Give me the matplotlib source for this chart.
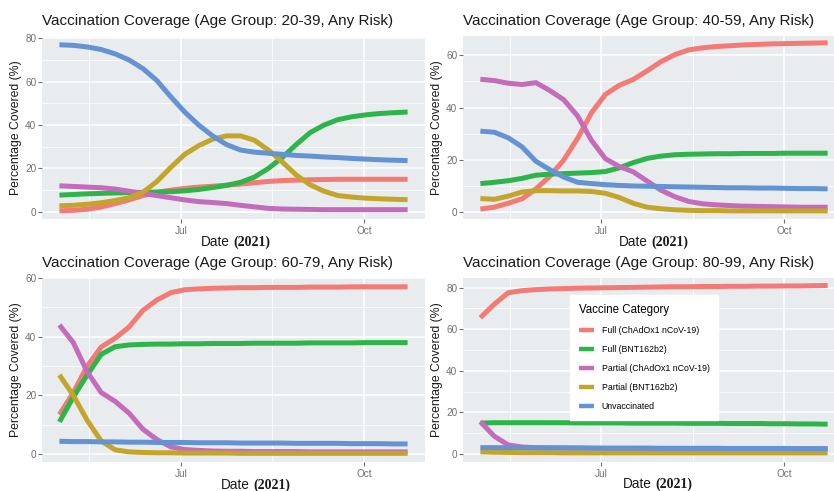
import matplotlib
matplotlib.use("Agg")
import matplotlib.pyplot as plt
import matplotlib.dates as mdates
import pandas as pd
import numpy as np

# ---------------- data ----------------
weeks = pd.date_range("2021-05-01", periods=26, freq="7D")

categories = ["Full (ChAdOx1 nCoV-19)", "Full (BNT162b2)",
              "Partial (ChAdOx1 nCoV-19)", "Partial (BNT162b2)", "Unvaccinated"]
colors = ["#F47A76", "#2DB54A", "#C46BBB", "#C4A52B", "#6493D4"]

age_groups = ["20-39", "40-59", "60-79", "80-99"]

# Age 20-39
g1_full_chad = [0.5, 0.7, 1.2, 2.2, 3.8, 5.5, 7.5, 9.0, 10.0, 10.8, 11.4, 11.8, 12.3,
                12.8, 13.4, 14.0, 14.4, 14.6, 14.8, 14.9, 15.0, 15.0, 15.0, 15.0, 15.0, 15.0]
g1_full_bnt = [7.7, 8.0, 8.3, 8.5, 8.7, 8.9, 9.0, 9.1, 9.3, 9.7, 10.3, 11.2, 12.2,
               13.6, 16.0, 20.0, 25.0, 31.0, 36.5, 40.0, 42.5, 43.8, 44.7, 45.3, 45.7, 46.0]
g1_part_chad = [12.0, 11.7, 11.4, 11.1, 10.5, 9.5, 8.5, 7.5, 6.5, 5.5, 4.7, 4.3, 3.8,
                3.0, 2.3, 1.6, 1.3, 1.2, 1.1, 1.0, 1.0, 1.0, 1.0, 1.0, 1.0, 1.0]
g1_part_bnt = [2.8, 3.0, 3.5, 4.2, 5.2, 6.5, 9.0, 14.0, 20.5, 26.5, 30.5, 33.5, 35.0,
               35.0, 33.0, 28.5, 23.0, 17.0, 12.5, 9.5, 7.5, 6.8, 6.3, 6.0, 5.8, 5.6]
g1_unvacc = [77.0, 76.7, 76.0, 74.8, 72.8, 70.0, 66.0, 60.5, 53.0, 46.0, 40.0, 35.0, 31.0,
             28.5, 27.5, 27.0, 26.5, 26.0, 25.7, 25.3, 25.0, 24.6, 24.3, 24.0, 23.8, 23.6]

# Age 40-59
g2_full_chad = [1.3, 2.0, 3.5, 5.2, 9.0, 13.8, 20.0, 28.3, 38.0, 45.0, 48.5, 50.7, 54.0,
                57.5, 60.2, 62.0, 62.8, 63.3, 63.6, 63.9, 64.1, 64.3, 64.4, 64.5, 64.6, 64.7]
g2_full_bnt = [11.0, 11.5, 12.1, 13.0, 14.2, 14.6, 14.8, 15.0, 15.2, 15.6, 17.0, 19.0, 20.6,
               21.5, 22.0, 22.2, 22.3, 22.4, 22.4, 22.5, 22.5, 22.5, 22.6, 22.6, 22.6, 22.6]
g2_part_chad = [50.8, 50.3, 49.3, 48.8, 49.5, 46.5, 43.0, 36.8, 27.5, 20.5, 17.5, 15.5, 12.0,
                8.5, 6.0, 4.2, 3.3, 2.9, 2.6, 2.4, 2.3, 2.2, 2.1, 2.0, 2.0, 2.0]
g2_part_bnt = [5.3, 5.0, 6.2, 7.8, 8.3, 8.3, 8.2, 8.2, 8.0, 7.3, 5.7, 3.5, 2.0,
               1.4, 1.0, 0.8, 0.7, 0.7, 0.6, 0.6, 0.6, 0.6, 0.6, 0.6, 0.6, 0.6]
g2_unvacc = [31.0, 30.6, 28.5, 25.0, 19.5, 16.3, 13.5, 11.5, 11.0, 10.6, 10.3, 10.1, 10.0,
             9.9, 9.8, 9.7, 9.6, 9.5, 9.4, 9.4, 9.3, 9.3, 9.2, 9.1, 9.1, 9.0]

# Age 60-79
g3_full_chad = [13.5, 21.0, 30.0, 36.5, 39.5, 43.3, 49.0, 52.5, 55.0, 56.0, 56.3, 56.5, 56.6,
                56.7, 56.7, 56.8, 56.8, 56.8, 56.9, 56.9, 56.9, 57.0, 57.0, 57.0, 57.0, 57.0]
g3_full_bnt = [11.0, 19.5, 27.0, 34.0, 36.6, 37.2, 37.4, 37.5, 37.5, 37.6, 37.6, 37.7, 37.7,
               37.7, 37.8, 37.8, 37.8, 37.8, 37.9, 37.9, 37.9, 37.9, 38.0, 38.0, 38.0, 38.0]
g3_part_chad = [44.0, 38.0, 28.0, 21.0, 18.0, 14.0, 8.5, 5.0, 2.5, 1.6, 1.3, 1.1, 1.0,
                1.0, 0.9, 0.9, 0.9, 0.9, 0.8, 0.8, 0.8, 0.8, 0.8, 0.8, 0.8, 0.8]
g3_part_bnt = [27.0, 20.0, 11.5, 4.5, 1.5, 0.8, 0.6, 0.5, 0.5, 0.4, 0.4, 0.4, 0.4,
               0.3, 0.3, 0.3, 0.3, 0.3, 0.3, 0.3, 0.3, 0.3, 0.3, 0.3, 0.3, 0.3]
g3_unvacc = [4.4, 4.3, 4.3, 4.2, 4.2, 4.1, 4.1, 4.0, 4.0, 4.0, 3.9, 3.9, 3.9,
             3.8, 3.8, 3.8, 3.8, 3.7, 3.7, 3.7, 3.7, 3.6, 3.6, 3.6, 3.5, 3.5]

# Age 80-99
g4_full_chad = [65.5, 72.0, 77.5, 78.5, 79.0, 79.3, 79.5, 79.7, 79.8, 79.9, 80.0, 80.1, 80.2,
                80.3, 80.4, 80.4, 80.5, 80.5, 80.6, 80.6, 80.7, 80.7, 80.8, 80.8, 80.9, 81.0]
g4_full_bnt = [14.8, 15.0, 15.0, 15.0, 15.0, 15.0, 15.0, 14.9, 14.9, 14.9, 14.9, 14.8, 14.8,
               14.8, 14.8, 14.7, 14.7, 14.7, 14.6, 14.6, 14.6, 14.5, 14.5, 14.4, 14.4, 14.3]
g4_part_chad = [15.5, 8.5, 4.3, 3.3, 3.0, 2.9, 2.8, 2.7, 2.7, 2.6, 2.6, 2.6, 2.5,
                2.5, 2.5, 2.5, 2.5, 2.5, 2.5, 2.5, 2.5, 2.5, 2.5, 2.5, 2.5, 2.5]
g4_part_bnt = [1.0, 0.8, 0.7, 0.6, 0.6, 0.6, 0.5, 0.5, 0.5, 0.5, 0.5, 0.5, 0.5,
               0.5, 0.5, 0.5, 0.5, 0.5, 0.5, 0.5, 0.5, 0.5, 0.5, 0.5, 0.5, 0.5]
g4_unvacc = [3.0, 3.0, 3.0, 3.0, 2.9, 2.9, 2.9, 2.9, 2.8, 2.8, 2.8, 2.8, 2.8,
             2.7, 2.7, 2.7, 2.7, 2.7, 2.6, 2.6, 2.6, 2.6, 2.6, 2.5, 2.5, 2.5]

groups = [
    [g1_full_chad, g1_full_bnt, g1_part_chad, g1_part_bnt, g1_unvacc],
    [g2_full_chad, g2_full_bnt, g2_part_chad, g2_part_bnt, g2_unvacc],
    [g3_full_chad, g3_full_bnt, g3_part_chad, g3_part_bnt, g3_unvacc],
    [g4_full_chad, g4_full_bnt, g4_part_chad, g4_part_bnt, g4_unvacc],
]
y_ticks = [[0, 20, 40, 60, 80], [0, 20, 40, 60], [0, 20, 40, 60], [0, 20, 40, 60, 80]]
y_limits = [(-3.3, 80.8), (-2.5, 67.3), (-2.65, 59.9), (-3.9, 84.6)]

# ---------------- layout ----------------
W, H = 834, 491
fig = plt.figure(figsize=(W / 100, H / 100), dpi=100)
fig.patch.set_facecolor("white")

def fx(x):
    return x / W

def fy(y):
    return 1 - y / H

# (left, right, top, bottom) in px
boxes = [(42, 425, 36.5, 219), (463, 845, 36, 219),
         (42, 425, 278, 462), (463, 845, 278, 462)]
xlabel_split = [(232, 242), (650, 242), (252, 485), (654, 484)]

SANS = "Liberation Sans"
SERIF = "Liberation Serif"
BG = "#E9ECEF"
TICKC = "#707070"

xmin = mdates.date2num(pd.Timestamp("2021-05-01")) - 8.75
xmax = mdates.date2num(pd.Timestamp("2021-10-23")) + 8.75
major_x = [mdates.date2num(pd.Timestamp(d)) for d in ["2021-07-01", "2021-10-01"]]
minor_x = [mdates.date2num(pd.Timestamp(d)) for d in ["2021-05-16", "2021-08-16"]]

axes = []
for i, (l, r, t, b) in enumerate(boxes):
    ax = fig.add_axes([fx(l), fy(b), fx(r) - fx(l), (b - t) / H])
    ax.set_facecolor(BG)
    for s in ax.spines.values():
        s.set_visible(False)
    ax.set_xlim(xmin, xmax)
    ax.set_ylim(*y_limits[i])
    yt = y_ticks[i]
    ax.set_yticks(yt)
    ax.set_yticklabels([str(v) for v in yt], fontfamily=SANS, fontsize=7.2, color=TICKC)
    ax.set_yticks([v + 10 for v in yt if v + 10 < y_limits[i][1]], minor=True)
    ax.set_xticks(major_x)
    ax.set_xticklabels(["Jul", "Oct"], fontfamily=SANS, fontsize=7.2, color=TICKC)
    ax.set_xticks(minor_x, minor=True)
    ax.tick_params(which="major", length=3, width=0.8, color=TICKC)
    ax.tick_params(axis="y", which="major", pad=1)
    ax.tick_params(axis="x", which="major", pad=2)
    ax.tick_params(which="minor", length=0)
    ax.grid(which="major", color="white", linewidth=1.1)
    ax.grid(which="minor", color="white", linewidth=0.55)
    ax.set_axisbelow(True)

    for series, col, lab in zip(groups[i], colors, categories):
        ax.plot(weeks, series, color=col, linewidth=3.6, solid_capstyle="butt",
                solid_joinstyle="miter", label=lab)

    ax.set_ylabel("Percentage Covered (%)", fontfamily=SANS, fontsize=8.8,
                  color="#1a1a1a", labelpad=2)
    fig.text(fx(l), fy(t) + 8 / H,
             f"Vaccination Coverage (Age Group: {age_groups[i]}, Any Risk)",
             fontfamily=SANS, fontsize=11, ha="left", va="bottom", color="#1a1a1a")
    sx, sy = xlabel_split[i]
    fig.text(fx(sx - 2), fy(sy), "Date", fontfamily=SANS, fontsize=9.8,
             ha="right", va="center", color="#1a1a1a")
    fig.text(fx(sx + 1), fy(sy), "(2021)", fontfamily=SERIF,
             fontweight="bold", fontsize=10, ha="left", va="center", color="#1a1a1a")
    axes.append(ax)

# legend inside bottom-right panel
leg = axes[3].legend(loc="upper left", bbox_to_anchor=(fx(570), fy(295)),
                     bbox_transform=fig.transFigure, frameon=True, fancybox=False,
                     framealpha=1, edgecolor="white", facecolor="white",
                     title="Vaccine Category",
                     prop={"family": SANS, "size": 6.3},
                     handlelength=1.7, handletextpad=0.9, labelspacing=1.15,
                     borderpad=1.0, borderaxespad=0)
leg.get_title().set_fontfamily(SANS)
leg.get_title().set_fontsize(8.3)
leg._legend_box.align = "left"
for h in leg.get_lines():
    h.set_linewidth(3.2)

fig.savefig("out.png", dpi=100)
